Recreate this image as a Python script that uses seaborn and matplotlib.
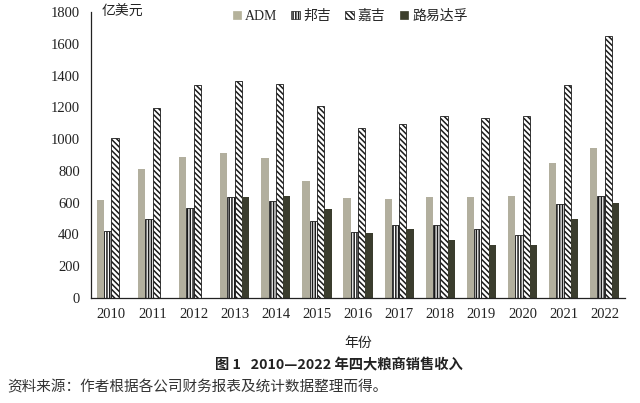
import numpy as np
import pandas as pd
import matplotlib
matplotlib.use('Agg')
import matplotlib.pyplot as plt
from matplotlib.patches import Patch
import seaborn as sns

# 数据
years = [str(y) for y in range(2010, 2023)]
companies = ['ADM', '邦吉', '嘉吉', '路易达孚']
adm = [620, 810, 890, 910, 880, 738, 630, 623, 634, 634, 642, 852, 944]
bunge = [420, 495, 568, 638, 613, 485, 413, 459, 459, 432, 397, 592, 644]
cargill = [1010, 1195, 1338, 1368, 1350, 1208, 1072, 1095, 1148, 1135, 1148, 1341, 1651]
ld = [np.nan, np.nan, np.nan, 634, 645, 558, 407, 432, 365, 336, 336, 495, 600]

df = pd.DataFrame({'年份': years * 4,
                   '公司': sum([[c] * len(years) for c in companies], []),
                   '收入': adm + bunge + cargill + ld})

sns.set_style('white')
plt.rcParams['font.family'] = ['Liberation Serif', 'Noto Sans CJK SC', 'DejaVu Sans']
plt.rcParams['hatch.linewidth'] = 1.1

colors = ['#b5b29b', '#ffffff', '#ffffff', '#3d3f2c']
hatches = ['', '||||||', '\\' * 6, '']

fig = plt.figure(figsize=(6.4, 4.03), dpi=100)
ax = fig.add_axes([0.142, 0.2605, 0.835, 0.7095])

sns.barplot(data=df, x='年份', y='收入', hue='公司', hue_order=companies,
            palette=colors, width=0.71, gap=0, ax=ax, legend=False)

for cont, h, c in zip(ax.containers, hatches, colors):
    for p in cont:
        p.set_hatch(h)
        if h:
            p.set_edgecolor('#1a1a1a')
            p.set_linewidth(0.6)
        else:
            p.set_edgecolor(c)
            p.set_linewidth(0)

ax.set_ylim(0, 1800)
ax.set_xlim(-0.5, len(years) - 0.5)
ax.set_yticks(range(0, 1801, 200))
ax.set_xticks(np.arange(0.5, len(years) - 0.4, 1), minor=True)
ax.tick_params(axis='x', which='major', length=0, labelsize=10.5, pad=7, colors='#222')
ax.tick_params(axis='x', which='minor', length=4, direction='in', width=0.8, color='#222')
ax.tick_params(axis='y', length=4, direction='in', width=0.8, labelsize=10.5, colors='#222', pad=8)
for s in ['top', 'right']:
    ax.spines[s].set_visible(False)
for s in ['left', 'bottom']:
    ax.spines[s].set_color('#222')
    ax.spines[s].set_linewidth(0.9)

ax.set_xlabel('年份', fontsize=10, color='#222', labelpad=12)
ax.set_ylabel('')
ax.text(0.02, 1.0, '亿美元', transform=ax.transAxes, fontsize=10, color='#222',
        va='center', ha='left', family=['Noto Sans CJK SC'])

handles = [Patch(facecolor=c, edgecolor=('#1a1a1a' if h else c), hatch=h, linewidth=0.5)
           for c, h in zip(colors, hatches)]
ax.legend(handles, companies, loc='center', bbox_to_anchor=(0.485, 0.985), ncol=4,
          frameon=False, fontsize=10, handlelength=0.6, handleheight=0.6,
          handletextpad=0.3, columnspacing=1.0)

fig.text(0.530, 0.094, '图 1   2010—2022 年四大粮商销售收入', ha='center', va='center',
         fontsize=10.3, fontweight='bold', color='#222', family=['Noto Sans CJK SC', 'DejaVu Sans'])
fig.text(0.012, 0.040, '资料来源：作者根据各公司财务报表及统计数据整理而得。', ha='left', va='center',
         fontsize=10.5, color='#333', family=['Noto Sans CJK SC', 'DejaVu Sans'])

fig.savefig('out.png', dpi=100)
